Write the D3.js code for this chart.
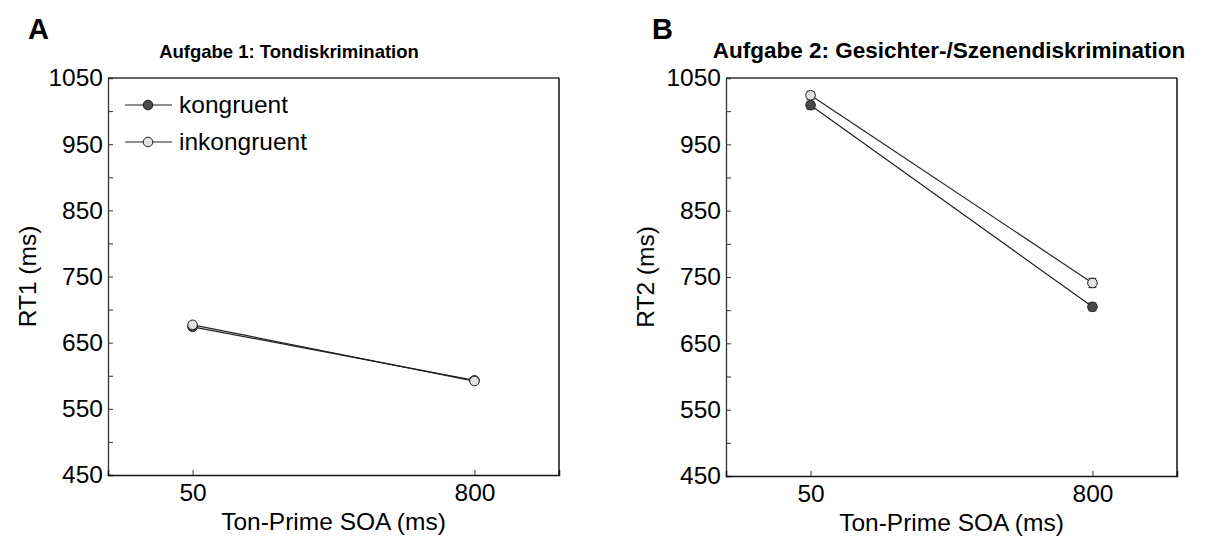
<!DOCTYPE html>
<html>
<head>
<meta charset="utf-8">
<script src="https://cdn.jsdelivr.net/npm/d3@7"></script>
<style>
  body { margin: 0; background: #fff; }
  svg { display: block; font-family: "Liberation Sans", Arial, sans-serif; }
</style>
</head>
<body>
<svg id="chart" width="1209" height="541"></svg>
<script>
// Conditions on the x axis (Ton-Prime SOA in ms)
const soaLabels = ["50", "800"];
// Task 1: RT1 means (ms) and standard errors
const rt1Kongruent = [674, 593];
const rt1Inkongruent = [677, 592];
const rt1KongruentErr = [4, 4];
const rt1InkongruentErr = [4, 4];
// Task 2: RT2 means (ms) and standard errors
const rt2Kongruent = [1009, 705];
const rt2Inkongruent = [1024, 741];
const rt2KongruentErr = [6, 6];
const rt2InkongruentErr = [6, 7];
// Y axis ticks
const yTicks = [450, 500, 550, 600, 650, 700, 750, 800, 850, 900, 950, 1000, 1050];
const yLabels = [450, 550, 650, 750, 850, 950, 1050];
const seriesNames = ["kongruent", "inkongruent"];
const seriesFill = ["#4a4a4a", "#e2e2e2"];

const svg = d3.select("#chart");
const FONT = 24.5;

function panel(opts) {
  const { left, right, top, bottom, letter, letterX, title, titleX, titleSize, yTitle, series, showLegend } = opts;
  const g = svg.append("g");
  const x = d3.scaleLinear().domain([0.7, 2.3]).range([left, right]);
  const y = d3.scaleLinear().domain([450, 1050]).range([bottom, top]);

  // frame
  g.append("line").attr("x1", left).attr("x2", right).attr("y1", top).attr("y2", top)
    .attr("stroke", "#333").attr("stroke-width", 1.3);
  g.append("line").attr("x1", right).attr("x2", right).attr("y1", top).attr("y2", bottom)
    .attr("stroke", "#111").attr("stroke-width", 1.5);

  // left axis, ticks pointing inward
  const yAxis = d3.axisLeft(y).tickValues(yTicks).tickSize(-5).tickPadding(5)
    .tickFormat(d => yLabels.includes(d) ? d : "");
  const ya = g.append("g").attr("transform", `translate(${left},0)`).call(yAxis);
  ya.select(".domain").attr("stroke", "#333").attr("stroke-width", 1.3);
  ya.selectAll(".tick line").attr("stroke", "#333");
  ya.selectAll("text").attr("font-size", FONT).attr("fill", "#000")
    .attr("font-family", "Liberation Sans, Arial, sans-serif");

  // bottom axis, ticks pointing inward
  const xAxis = d3.axisBottom(x).tickValues([1, 2]).tickSize(-5).tickPadding(9)
    .tickFormat((d, i) => soaLabels[i]);
  const xa = g.append("g").attr("transform", `translate(0,${bottom})`).call(xAxis);
  xa.select(".domain").attr("stroke", "#111").attr("stroke-width", 1.5);
  xa.selectAll(".tick line").attr("stroke", "#333");
  xa.selectAll("text").attr("font-size", FONT).attr("fill", "#000")
    .attr("font-family", "Liberation Sans, Arial, sans-serif");

  // axis titles
  g.append("text").attr("x", (left + right) / 2).attr("y", bottom + 55)
    .attr("text-anchor", "middle").attr("font-size", FONT).text("Ton-Prime SOA (ms)");
  g.append("text").attr("transform", `translate(${left - 72},${(top + bottom) / 2}) rotate(-90)`)
    .attr("text-anchor", "middle").attr("font-size", FONT).text(yTitle);

  // panel letter and title
  g.append("text").attr("x", letterX).attr("y", 39).attr("font-size", 29)
    .attr("font-weight", "bold").text(letter);
  g.append("text").attr("x", titleX).attr("y", 58).attr("text-anchor", "middle")
    .attr("font-size", titleSize).attr("font-weight", "bold").text(title);

  // series: lines, error bars, markers
  series.forEach((s, si) => {
    const pts = s.values.map((v, i) => ({ x: i + 1, v, e: s.err[i] }));
    g.append("path").datum(pts)
      .attr("d", d3.line().x(d => x(d.x)).y(d => y(d.v)))
      .attr("fill", "none").attr("stroke", "#222").attr("stroke-width", 1.2);
    pts.forEach(d => {
      const cx = x(d.x);
      const eg = g.append("g").attr("stroke", "#222").attr("stroke-width", 1);
      eg.append("line").attr("x1", cx).attr("x2", cx).attr("y1", y(d.v + d.e)).attr("y2", y(d.v - d.e));
      [d.v + d.e, d.v - d.e].forEach(c => {
        eg.append("line").attr("x1", cx - 4).attr("x2", cx + 4).attr("y1", y(c)).attr("y2", y(c));
      });
      g.append("circle").attr("cx", cx).attr("cy", y(d.v)).attr("r", 4.8)
        .attr("fill", seriesFill[si]).attr("stroke", "#222").attr("stroke-width", 1);
    });
  });

  if (showLegend) {
    const lg = g.append("g");
    seriesNames.forEach((name, i) => {
      const ly = 105 + i * 37;
      lg.append("line").attr("x1", left + 17).attr("x2", left + 64).attr("y1", ly).attr("y2", ly)
        .attr("stroke", "#222").attr("stroke-width", 1.2);
      lg.append("circle").attr("cx", left + 40).attr("cy", ly).attr("r", 4.8)
        .attr("fill", seriesFill[i]).attr("stroke", "#222").attr("stroke-width", 1);
      lg.append("text").attr("x", left + 71).attr("y", ly + 8).attr("font-size", FONT).text(name);
    });
  }
}

panel({
  left: 108, right: 559, top: 78, bottom: 475,
  letter: "A", letterX: 28, title: "Aufgabe 1: Tondiskrimination", titleX: 289, titleSize: 18.5,
  yTitle: "RT1 (ms)",
  series: [
    { values: rt1Kongruent, err: rt1KongruentErr },
    { values: rt1Inkongruent, err: rt1InkongruentErr }
  ],
  showLegend: true
});

panel({
  left: 726, right: 1177, top: 78, bottom: 476,
  letter: "B", letterX: 652, title: "Aufgabe 2: Gesichter-/Szenendiskrimination", titleX: 949, titleSize: 22.5,
  yTitle: "RT2 (ms)",
  series: [
    { values: rt2Kongruent, err: rt2KongruentErr },
    { values: rt2Inkongruent, err: rt2InkongruentErr }
  ],
  showLegend: false
});
</script>
</body>
</html>
